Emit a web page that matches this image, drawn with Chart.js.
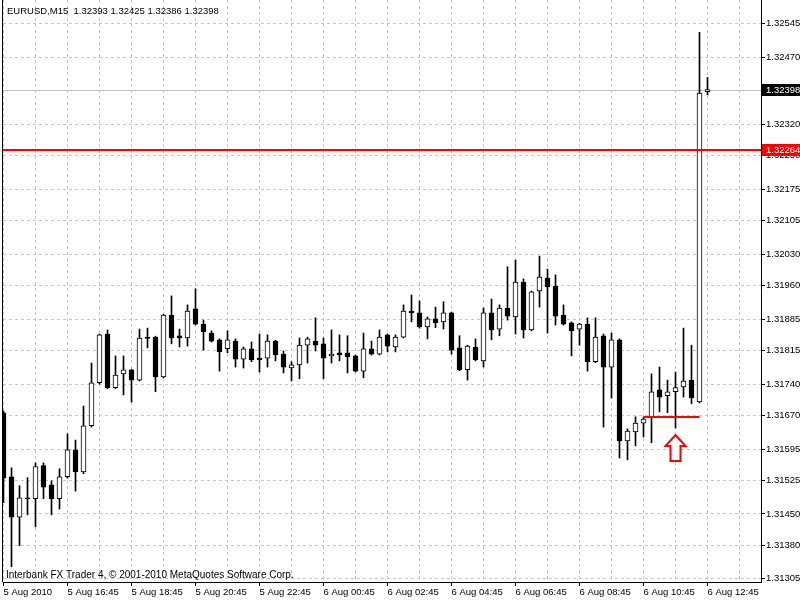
<!DOCTYPE html>
<html>
<head>
<meta charset="utf-8">
<title>EURUSD,M15</title>
<script src="https://cdn.jsdelivr.net/npm/chart.js@4.4.0/dist/chart.umd.min.js"></script>
<style>
	html, body { margin: 0; padding: 0; background: #fff; }
	#wrap { width: 800px; height: 600px; }
</style>
</head>
<body>
<div id="wrap"><canvas id="candleChart" width="800" height="600"></canvas></div>
<script>
var symbolTitle = 'EURUSD,M15';
var footerText = 'Interbank FX Trader 4, \u00a9 2001-2010 MetaQuotes Software Corp.';

// M15 bars, 5 Aug 2010 14:45 -> 6 Aug 2010 12:45
var openPrices = [
	1.31676, 1.31533, 1.31443, 1.31486, 1.31484, 1.31558, 1.31515, 1.31484, 1.31533, 1.31593,
	1.31544, 1.31647, 1.31743, 1.31852, 1.31732, 1.31763, 1.31772, 1.31749, 1.31845, 1.31845,
	1.31756, 1.31894, 1.31848, 1.31843, 1.31908, 1.31874, 1.31854, 1.31839, 1.31819, 1.31836,
	1.31796, 1.31819, 1.31798, 1.31798, 1.31836, 1.31807, 1.31776, 1.31783, 1.31827, 1.31836,
	1.31830, 1.31803, 1.31810, 1.31810, 1.31803, 1.31769, 1.31819, 1.31807, 1.31850, 1.31823,
	1.31845, 1.31903, 1.31899, 1.31868, 1.31886, 1.31879, 1.31899, 1.31821, 1.31772, 1.31823,
	1.31792, 1.31899, 1.31863, 1.31910, 1.31890, 1.31968, 1.31861, 1.31948, 1.31977, 1.31959,
	1.31894, 1.31877, 1.31863, 1.31874, 1.31790, 1.31848, 1.31778, 1.31839, 1.31613, 1.31633,
	1.31653, 1.31665, 1.31727, 1.31714, 1.31723, 1.31734, 1.31749, 1.31700, 1.32393
];
var highPrices = [
	1.31680, 1.31553, 1.31513, 1.31531, 1.31564, 1.31564, 1.31524, 1.31551, 1.31629, 1.31615,
	1.31691, 1.31787, 1.31852, 1.31861, 1.31803, 1.31803, 1.31773, 1.31863, 1.31865, 1.31847,
	1.31896, 1.31937, 1.31863, 1.31917, 1.31953, 1.31883, 1.31859, 1.31841, 1.31859, 1.31841,
	1.31823, 1.31834, 1.31852, 1.31850, 1.31838, 1.31814, 1.31790, 1.31843, 1.31845, 1.31888,
	1.31843, 1.31861, 1.31850, 1.31848, 1.31805, 1.31854, 1.31836, 1.31861, 1.31852, 1.31850,
	1.31917, 1.31939, 1.31926, 1.31890, 1.31912, 1.31924, 1.31901, 1.31848, 1.31827, 1.31841,
	1.31910, 1.31930, 1.31917, 1.32002, 1.32017, 1.31975, 1.31948, 1.32026, 1.31997, 1.31984,
	1.31917, 1.31879, 1.31876, 1.31888, 1.31888, 1.31852, 1.31854, 1.31841, 1.31640, 1.31667,
	1.31666, 1.31763, 1.31778, 1.31749, 1.31767, 1.31865, 1.31827, 1.32526, 1.32425
];
var lowPrices = [
	1.31475, 1.31332, 1.31379, 1.31448, 1.31421, 1.31484, 1.31448, 1.31461, 1.31530, 1.31501,
	1.31540, 1.31644, 1.31740, 1.31730, 1.31730, 1.31716, 1.31700, 1.31747, 1.31821, 1.31723,
	1.31754, 1.31830, 1.31823, 1.31825, 1.31872, 1.31816, 1.31834, 1.31769, 1.31810, 1.31778,
	1.31776, 1.31790, 1.31767, 1.31778, 1.31792, 1.31765, 1.31747, 1.31752, 1.31787, 1.31814,
	1.31752, 1.31787, 1.31792, 1.31765, 1.31767, 1.31754, 1.31805, 1.31805, 1.31812, 1.31812,
	1.31843, 1.31879, 1.31865, 1.31841, 1.31866, 1.31863, 1.31807, 1.31770, 1.31749, 1.31792,
	1.31778, 1.31839, 1.31848, 1.31883, 1.31852, 1.31843, 1.31859, 1.31912, 1.31854, 1.31872,
	1.31872, 1.31803, 1.31827, 1.31769, 1.31788, 1.31644, 1.31709, 1.31575, 1.31571, 1.31602,
	1.31622, 1.31609, 1.31678, 1.31676, 1.31642, 1.31711, 1.31696, 1.31698, 1.32386
];
var closePrices = [
	1.31530, 1.31443, 1.31486, 1.31484, 1.31556, 1.31510, 1.31484, 1.31533, 1.31593, 1.31544,
	1.31647, 1.31743, 1.31850, 1.31732, 1.31760, 1.31772, 1.31749, 1.31843, 1.31842, 1.31756,
	1.31894, 1.31843, 1.31843, 1.31903, 1.31874, 1.31857, 1.31836, 1.31812, 1.31839, 1.31796,
	1.31819, 1.31794, 1.31794, 1.31836, 1.31805, 1.31778, 1.31783, 1.31827, 1.31841, 1.31827,
	1.31798, 1.31807, 1.31805, 1.31801, 1.31769, 1.31819, 1.31807, 1.31845, 1.31825, 1.31845,
	1.31903, 1.31899, 1.31868, 1.31886, 1.31877, 1.31899, 1.31816, 1.31772, 1.31825, 1.31794,
	1.31899, 1.31861, 1.31910, 1.31892, 1.31968, 1.31861, 1.31946, 1.31979, 1.31957, 1.31892,
	1.31874, 1.31859, 1.31874, 1.31790, 1.31845, 1.31778, 1.31839, 1.31613, 1.31635, 1.31653,
	1.31662, 1.31723, 1.31711, 1.31723, 1.31732, 1.31747, 1.31709, 1.32390, 1.32398
];

// one label every 8 bars (2 hours)
var timeLabels = ['5 Aug 2010', '5 Aug 16:45', '5 Aug 18:45', '5 Aug 20:45', '5 Aug 22:45', '6 Aug 00:45',
	'6 Aug 02:45', '6 Aug 04:45', '6 Aug 06:45', '6 Aug 08:45', '6 Aug 10:45', '6 Aug 12:45'];
var yTickValues = [1.31305, 1.31380, 1.31450, 1.31525, 1.31595, 1.31670, 1.31740, 1.31815, 1.31885,
	1.31960, 1.32030, 1.32105, 1.32175, 1.32250, 1.32320, 1.32395, 1.32470, 1.32545];
var yTickLabels = ['1.31305', '1.31380', '1.31450', '1.31525', '1.31595', '1.31670', '1.31740', '1.31815', '1.31885',
	'1.31960', '1.32030', '1.32105', '1.32175', '1.32250', '1.32320', '1.32395', '1.32470', '1.32545'];

var levelPrice = 1.32264;
var signalPrice = 1.31667;
var signalBars = [80, 87];
var arrowBar = 84;
var arrowPrice = 1.31626;

var fontFamily = '"Liberation Sans", Arial, sans-serif';
var fontSize = 9.5;
var gridColor = '#c8c8c8';
var candleChart;

var mt4Overlay = {
	id: 'mt4Overlay',
	beforeDatasetsDraw: function(chart) {
		var ctx = chart.ctx, area = chart.chartArea;
		var bid = closePrices[closePrices.length - 1];
		var py = Math.round(chart.scales.y.getPixelForValue(bid)) + 0.5;
		ctx.save();
		ctx.strokeStyle = '#c0c0c0';
		ctx.lineWidth = 1;
		ctx.beginPath();
		ctx.moveTo(area.left, py);
		ctx.lineTo(area.right, py);
		ctx.stroke();
		ctx.restore();
	},
	afterDatasetsDraw: function(chart) {
		var ctx = chart.ctx, area = chart.chartArea, xs = chart.scales.x, ys = chart.scales.y;
		ctx.save();
		ctx.strokeStyle = '#ff0000';
		ctx.lineWidth = 2;

		var ly = Math.round(ys.getPixelForValue(levelPrice));
		ctx.beginPath();
		ctx.moveTo(area.left, ly);
		ctx.lineTo(area.right, ly);
		ctx.stroke();

		var sy = Math.round(ys.getPixelForValue(signalPrice));
		ctx.beginPath();
		ctx.moveTo(xs.getPixelForValue(signalBars[0]), sy);
		ctx.lineTo(xs.getPixelForValue(signalBars[1]), sy);
		ctx.stroke();

		// hollow up arrow
		var ax = xs.getPixelForValue(arrowBar);
		var ay = Math.round(ys.getPixelForValue(arrowPrice));
		ctx.beginPath();
		ctx.moveTo(ax, ay);
		ctx.lineTo(ax + 10, ay + 11);
		ctx.lineTo(ax + 5, ay + 11);
		ctx.lineTo(ax + 5, ay + 26);
		ctx.lineTo(ax - 5, ay + 26);
		ctx.lineTo(ax - 5, ay + 11);
		ctx.lineTo(ax - 10, ay + 11);
		ctx.closePath();
		ctx.fillStyle = '#fff';
		ctx.fill();
		ctx.stroke();
		ctx.restore();
	},
	afterDraw: function(chart) {
		var ctx = chart.ctx, area = chart.chartArea, ys = chart.scales.y;
		ctx.save();
		ctx.strokeStyle = '#000';
		ctx.lineWidth = 1;
		ctx.beginPath();
		ctx.moveTo(area.left - 0.5, 0);
		ctx.lineTo(area.left - 0.5, area.bottom);
		ctx.stroke();

		ctx.font = fontSize + 'px ' + fontFamily;
		ctx.textBaseline = 'middle';
		var boxes = [
			{ value: closePrices[closePrices.length - 1], color: '#000' },
			{ value: levelPrice, color: '#ff0000' }
		];
		boxes.forEach(function(b) {
			var py = Math.round(ys.getPixelForValue(b.value));
			ctx.fillStyle = b.color;
			ctx.fillRect(area.right + 1, py - 6, chart.width - area.right - 1, 12);
			ctx.fillStyle = '#fff';
			ctx.fillText(b.value.toFixed(5), area.right + 5, py);
		});

		var last = closePrices.length - 1;
		var header = symbolTitle + '  ' + [openPrices[last], highPrices[last], lowPrices[last], closePrices[last]]
			.map(function(v) { return v.toFixed(5); }).join(' ');
		ctx.fillStyle = '#000';
		ctx.textBaseline = 'alphabetic';
		ctx.fillText(header, area.left + 4, 14);
		ctx.font = '10px ' + fontFamily;
		ctx.fillText(footerText, area.left + 3, area.bottom - 4);
		ctx.restore();
	}
};

var handleRenderChart = function() {
	var bodyData = openPrices.map(function(o, i) { return { x: i, y: [o, closePrices[i]] }; });
	var wickData = lowPrices.map(function(l, i) { return { x: i, y: [l, highPrices[i]] }; });
	var tickFont = { family: fontFamily, size: fontSize };

	candleChart = new Chart(document.getElementById('candleChart'), {
		type: 'bar',
		data: {
			datasets: [{
				label: 'Body',
				data: bodyData,
				order: 0,
				grouped: false,
				barThickness: 5,
				borderWidth: 1,
				borderSkipped: false,
				borderColor: '#000',
				backgroundColor: function(c) {
					var i = c.dataIndex;
					return closePrices[i] >= openPrices[i] ? '#fff' : '#000';
				}
			}, {
				label: 'Wick',
				data: wickData,
				order: 1,
				grouped: false,
				barThickness: 1,
				borderWidth: 0,
				backgroundColor: '#000'
			}]
		},
		options: {
			responsive: false,
			animation: false,
			devicePixelRatio: 1,
			layout: { padding: { left: 3, top: 0, right: 0, bottom: 0 } },
			plugins: {
				legend: { display: false },
				tooltip: { enabled: false }
			},
			scales: {
				x: {
					type: 'linear',
					min: -0.0625,
					max: 94.6875,
					offset: false,
					grid: {
						color: gridColor,
						offset: false,
						tickLength: 4,
						tickBorderDash: [],
						tickColor: function(c) {
							return c.tick && c.tick.value % 8 === 0 ? '#000' : 'rgba(0,0,0,0)';
						}
					},
					border: { color: '#000', width: 1, dash: [3, 3] },
					ticks: {
						autoSkip: false,
						maxRotation: 0,
						align: 'start',
						padding: 1,
						color: '#000',
						font: tickFont,
						callback: function(v) { return v % 8 === 0 ? timeLabels[v / 8] : ''; }
					},
					afterBuildTicks: function(scale) {
						var t = [];
						for (var v = 0; v <= 92; v += 4) t.push({ value: v });
						scale.ticks = t;
					},
					afterFit: function(scale) {
						scale.height = 18;
						scale.paddingLeft = 0;
						scale.paddingRight = 0;
					}
				},
				y: {
					type: 'linear',
					position: 'right',
					min: 1.31298,
					max: 1.32598,
					grid: { color: gridColor, tickLength: 4, tickColor: '#000', tickBorderDash: [] },
					border: { color: '#000', width: 1, dash: [3, 3] },
					ticks: {
						padding: 1,
						color: '#000',
						font: tickFont,
						callback: function(v, i) { return yTickLabels[i]; }
					},
					afterBuildTicks: function(scale) {
						scale.ticks = yTickValues.map(function(v) { return { value: v }; });
					},
					afterFit: function(scale) {
						scale.width = 39;
						scale.paddingTop = 0;
						scale.paddingBottom = 0;
					}
				}
			}
		},
		plugins: [mt4Overlay]
	});
};

handleRenderChart();
</script>
</body>
</html>
